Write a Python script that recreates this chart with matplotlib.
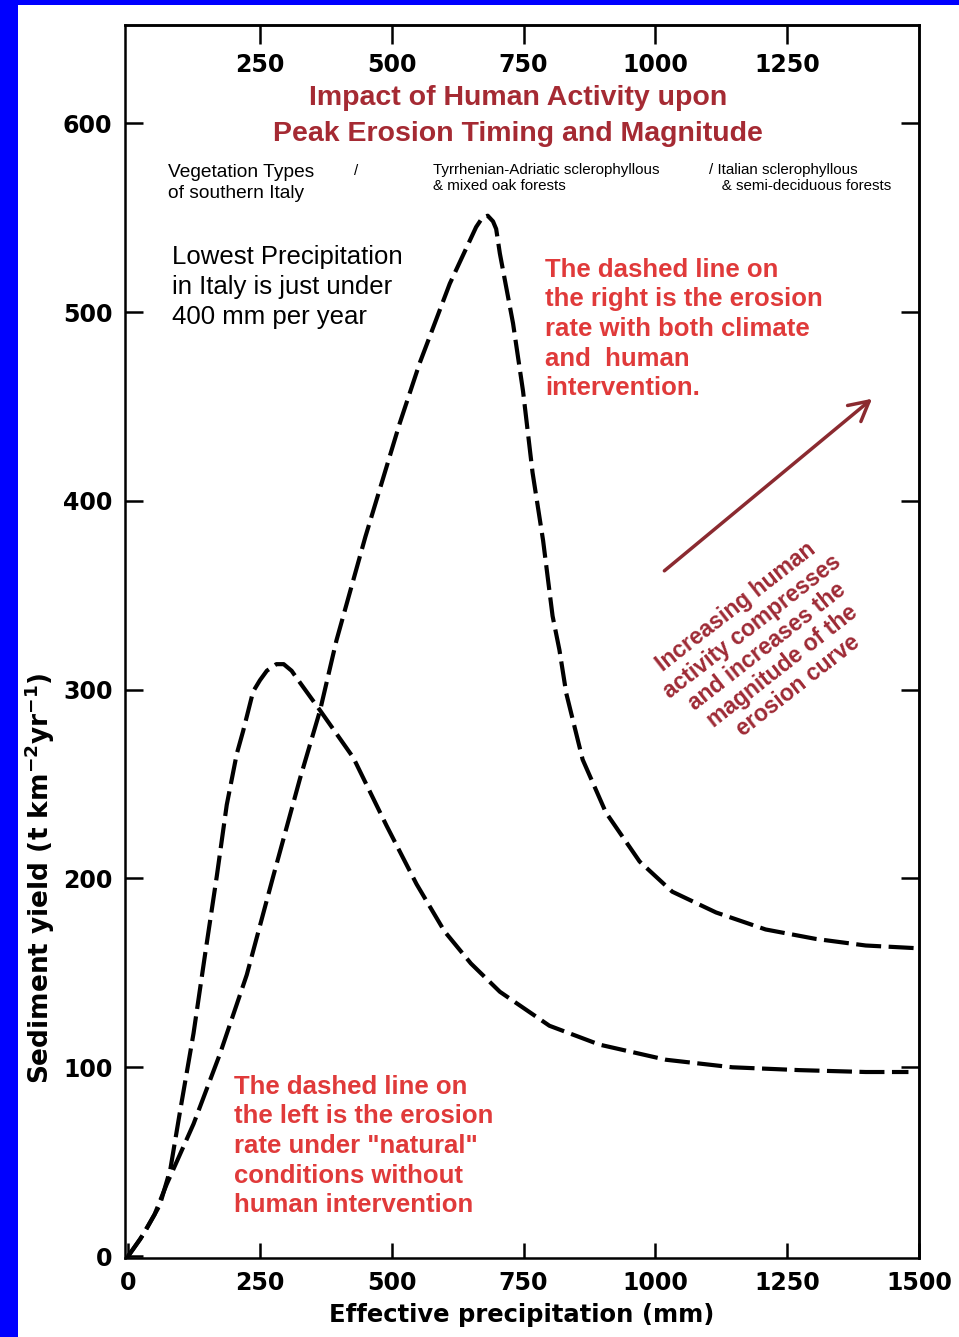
import matplotlib
matplotlib.use("Agg")
import matplotlib.pyplot as plt
from matplotlib.patches import Rectangle
from matplotlib.transforms import blended_transform_factory

# natural erosion curve (left dashed line)
nat_x = [0, 30, 60, 80, 98, 124, 146, 168, 187, 206, 218, 237, 250, 263, 281,
         295, 310, 320, 364, 427, 490, 547, 600, 650, 705, 799, 894, 1020, 1146,
         1273, 1399, 1480]
nat_y = [0, 12, 27, 46, 76, 118, 160, 201, 239, 266, 278, 299, 305, 310, 313.5,
         313.5, 310, 306, 289, 264, 228, 197, 172, 155, 140, 122, 112, 104, 100,
         98.5, 97.5, 97.5]

# climate + human erosion curve (right dashed line)
hum_x = [0, 23, 50, 73, 124, 174, 225, 275, 326, 364, 395, 450, 515, 553, 610,
         640, 660, 672, 682, 692, 698, 705, 730, 749, 767, 787, 805, 818, 831,
         862, 906, 970, 1032, 1115, 1209, 1304, 1399, 1500]
hum_y = [0, 9, 22, 38, 70, 107, 149, 201, 253, 289, 326, 381, 441, 473, 515,
         533, 545, 550, 551, 548, 544, 531, 494, 458, 415, 379, 339, 321, 298,
         263, 235, 209, 193, 182, 173, 168, 164.5, 163]

x_ticks = [0, 250, 500, 750, 1000, 1250, 1500]
top_ticks = [250, 500, 750, 1000, 1250]
y_ticks = [0, 100, 200, 300, 400, 500, 600]
right_ticks = [100, 200, 300, 400, 500, 600]

fig = plt.figure(figsize=(9.59, 13.37), dpi=100, facecolor="#0000ff")
fig.patches.append(Rectangle((18 / 959, 0), 1, 1 - 5 / 1337, transform=fig.transFigure,
                             facecolor="white", edgecolor="none", zorder=-10))

ax = fig.add_axes([125 / 959, 1 - 1258 / 1337, 794 / 959, 1233 / 1337])
ax.set_xlim(-6, 1500)
ax.set_ylim(-1, 652)

dash = (0, (6, 1.8))
ax.plot(nat_x, nat_y, color="black", lw=3, linestyle=dash)
ax.plot(hum_x, hum_y, color="black", lw=3, linestyle=dash)

for s in ax.spines.values():
    s.set_linewidth(1.8)

tickfont = dict(family="DejaVu Sans", weight="bold", size=17)
ax.set_xticks(x_ticks)
ax.set_xticklabels([str(v) for v in x_ticks], **tickfont)
ax.set_yticks(y_ticks)
ax.set_yticklabels([str(v) for v in y_ticks], **tickfont)
ax.tick_params(axis="x", direction="in", length=11, width=1.8, pad=9)
ax.tick_params(axis="y", direction="in", length=13, width=1.8, pad=9)

# top and right ticks without the corner ones
top = ax.secondary_xaxis("top")
top.set_xticks(top_ticks)
top.set_xticklabels([])
top.tick_params(direction="in", length=14, width=1.8)
top.spines["top"].set_linewidth(1.8)
right = ax.secondary_yaxis("right")
right.set_yticks(right_ticks)
right.set_yticklabels([])
right.tick_params(direction="in", length=13, width=1.8)
right.spines["right"].set_linewidth(1.8)

# top tick labels sit inside the frame
tr = blended_transform_factory(ax.transData, ax.transAxes)
for v in top_ticks:
    ax.text(v, 1 - 40 / 1233, str(v), transform=tr, ha="center", va="center", **tickfont)

ax.set_xlabel("Effective precipitation (mm)", family="DejaVu Sans", weight="bold",
              size=17.5, labelpad=6)
plt.rcParams["mathtext.fontset"] = "dejavusans"
fig.text(40 / 959, 1 - 878 / 1337,
         r"Sediment yield (t km$^{\mathbf{-2}}$yr$^{\mathbf{-1}}$)",
         rotation=90, ha="center", va="center", family="DejaVu Sans", weight="bold", size=19)

title_c = "#a52a33"
ax.text(0.495, 1 - 73 / 1233, "Impact of Human Activity upon", transform=ax.transAxes,
        ha="center", va="center", color=title_c, family="Liberation Sans", weight="bold", size=20.5)
ax.text(0.495, 1 - 109 / 1233, "Peak Erosion Timing and Magnitude", transform=ax.transAxes,
        ha="center", va="center", color=title_c, family="Liberation Sans", weight="bold", size=20.5)

# vegetation row
ax.text(0.054, 1 - 158 / 1233, "Vegetation Types\nof southern Italy", transform=ax.transAxes,
        ha="left", va="center", family="Liberation Sans", size=13.8, linespacing=1.33)
ax.text(0.289, 1 - 146 / 1233, "/", transform=ax.transAxes,
        ha="left", va="center", family="Liberation Sans", size=10.9)
ax.text(0.388, 1 - 153 / 1233, "Tyrrhenian-Adriatic sclerophyllous\n& mixed oak forests",
        transform=ax.transAxes, ha="left", va="center", family="Liberation Sans", size=10.9,
        linespacing=1.2)
ax.text(0.735, 1 - 153 / 1233, "/ Italian sclerophyllous\n   & semi-deciduous forests",
        transform=ax.transAxes, ha="left", va="center", family="Liberation Sans", size=10.9,
        linespacing=1.2)

ax.text(0.059, 1 - 262 / 1233, "Lowest Precipitation\nin Italy is just under\n400 mm per year",
        transform=ax.transAxes, ha="left", va="center", family="Liberation Sans", size=18.5,
        linespacing=1.34)

red = "#e03a3a"
ax.text(0.529, 1 - 304 / 1233,
        "The dashed line on\nthe right is the erosion\nrate with both climate\nand  human\nintervention.",
        transform=ax.transAxes, ha="left", va="center", color=red, family="Liberation Sans",
        weight="bold", size=18.5, linespacing=1.3)
ax.text(0.137, 1 - 1121 / 1233,
        "The dashed line on\nthe left is the erosion\nrate under \"natural\"\nconditions without\nhuman intervention",
        transform=ax.transAxes, ha="left", va="center", color=red, family="Liberation Sans",
        weight="bold", size=18.5, linespacing=1.3)

ax.text(1212, 323,
        "Increasing human\nactivity compresses\nand increases the\nmagnitude of the\nerosion curve",
        rotation=38, rotation_mode="anchor", ha="center", va="center", color="#9e2a35",
        family="Liberation Sans", weight="bold", size=16.5, linespacing=1.12)

ax.annotate("", xy=(1415, 455), xytext=(1013, 362),
            arrowprops=dict(arrowstyle="->,head_length=1.4,head_width=0.75", color="#8b2a30", lw=2.5))

fig.savefig("out.png", dpi=100, facecolor=fig.get_facecolor())
